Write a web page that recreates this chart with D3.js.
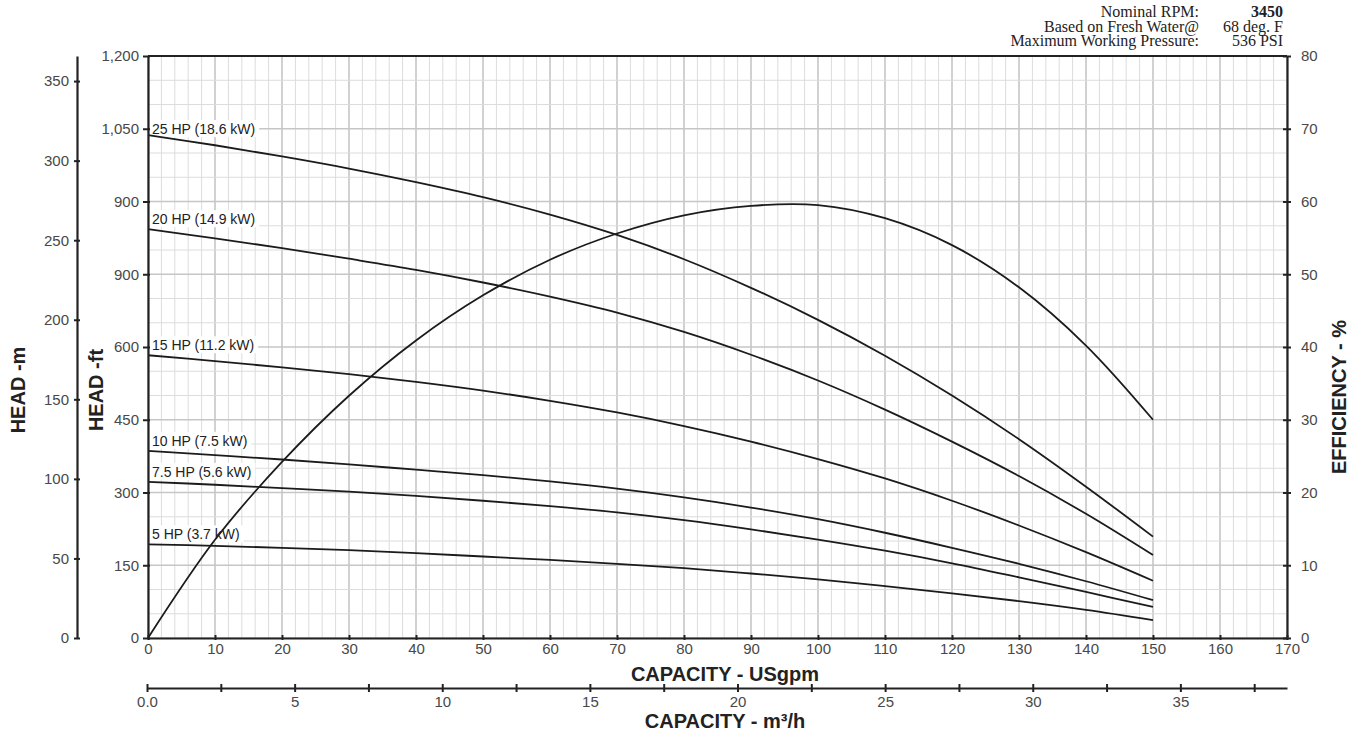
<!DOCTYPE html>
<html>
<head>
<meta charset="utf-8">
<script src="https://cdn.jsdelivr.net/npm/d3@7"></script>
<style>
  body { margin: 0; background: #fff; }
  text { font-family: "Liberation Sans", Arial, Helvetica, sans-serif; }
</style>
</head>
<body>
<div id="chart"></div>
<script>
const capacity = [0, 10, 20, 30, 40, 50, 60, 70, 80, 90, 100, 110, 120, 130, 140, 150];

// head curves in ft
const hp25 = [1037, 1016, 993, 968, 940, 909, 873, 831, 781, 722, 656, 582, 500, 410, 312, 209];
const hp20 = [843, 824, 804, 782, 759, 733, 704, 671, 631, 584, 531, 471, 405, 334, 256, 171];
const hp15 = [583, 571, 558, 544, 528, 510, 489, 465, 437, 405, 369, 329, 283, 232, 177, 118];
const hp10 = [386, 377, 368, 358, 347, 336, 323, 308, 290, 269, 245, 217, 186, 153, 117, 78];
const hp75 = [322, 316, 309, 302, 293, 283, 272, 259, 243, 224, 203, 180, 154, 125, 95, 64];
const hp5 = [193, 190, 186, 181, 175, 168, 161, 153, 144, 133, 121, 107, 92, 76, 58, 37];

// efficiency %
const efficiency = [0, 13.5, 24.2, 33.3, 40.9, 47.1, 52.0, 55.6, 58.1, 59.4, 59.5, 57.7, 54.0, 48.2, 40.2, 30];

const curveNames = ["25 HP (18.6 kW)", "20 HP (14.9 kW)", "15 HP (11.2 kW)", "10 HP (7.5 kW)", "7.5 HP (5.6 kW)", "5 HP (3.7 kW)"];
const curveValues = [hp25, hp20, hp15, hp10, hp75, hp5];

// tick labels
const ftTicks = [0, 150, 300, 450, 600, 750, 900, 1050, 1200];
const ftTickLabels = ["0", "150", "300", "450", "600", "900", "900", "1,050", "1,200"];
const mTicks = [0, 50, 100, 150, 200, 250, 300, 350];
const gpmTicks = [0, 10, 20, 30, 40, 50, 60, 70, 80, 90, 100, 110, 120, 130, 140, 150, 160, 170];
const effTicks = [0, 10, 20, 30, 40, 50, 60, 70, 80];
const m3hTicks = [0, 2.5, 5, 7.5, 10, 12.5, 15, 17.5, 20, 22.5, 25, 27.5, 30, 32.5, 35, 37.5];

const infoLabels = ["Nominal RPM:", "Based on Fresh Water@", "Maximum Working Pressure:"];
const infoValues = ["3450", "68 deg. F", "536 PSI"];

const FT_PER_M = 3.28084;
const GPM_PER_M3H = 4.40287;

const fullWidth = 1365, fullHeight = 736;
const plotLeft = 148, plotRight = 1287, plotTop = 56, plotBottom = 638;

const svg = d3.select("#chart")
  .append("svg")
  .attr("width", fullWidth)
  .attr("height", fullHeight);

const x = d3.scaleLinear().domain([0, 170]).range([plotLeft, plotRight]);
const yFt = d3.scaleLinear().domain([0, 1200]).range([plotBottom, plotTop]);
const yM = d3.scaleLinear().domain([0, 1200 / FT_PER_M]).range([plotBottom, plotTop]);
const yEff = d3.scaleLinear().domain([0, 80]).range([plotBottom, plotTop]);
const xM3 = d3.scaleLinear().domain([0, 170 / GPM_PER_M3H]).range([plotLeft - 1, plotRight]);

const axisColor = "#222";
const tickTextColor = "#484848";

// === Grid ===
const grid = svg.append("g");
const vLines = d3.range(0, 171, 2);
const hLines = d3.range(0, 1201, 50);

grid.selectAll(".vgrid")
  .data(vLines)
  .enter()
  .append("line")
  .attr("x1", d => x(d)).attr("x2", d => x(d))
  .attr("y1", plotTop).attr("y2", plotBottom)
  .attr("stroke", d => d % 10 === 0 ? "#c6c6c6" : "#dcdcdc")
  .attr("stroke-width", d => d % 10 === 0 ? 1.6 : 1);

grid.selectAll(".hgrid")
  .data(hLines)
  .enter()
  .append("line")
  .attr("x1", plotLeft).attr("x2", plotRight)
  .attr("y1", d => yFt(d)).attr("y2", d => yFt(d))
  .attr("stroke", d => d % 150 === 0 ? "#c6c6c6" : "#dcdcdc")
  .attr("stroke-width", d => d % 150 === 0 ? 1.6 : 1);

// === Curve labels (white boxes hide the grid) ===
const labels = svg.append("g");
curveNames.forEach((name, i) => {
  const y0 = yFt(curveValues[i][0]);
  const baseline = i === 0 ? y0 - 1 : y0 - 5;
  const t = labels.append("text")
    .attr("x", plotLeft + 4)
    .attr("y", baseline)
    .style("font-size", "14px")
    .style("fill", "#222")
    .text(name);
  const bb = t.node().getBBox();
  labels.insert("rect", "text")
    .attr("x", plotLeft + 2)
    .attr("y", bb.y - 1)
    .attr("width", bb.width + 6)
    .attr("height", bb.height + 1)
    .attr("fill", "#fff");
});

// === Curves ===
const line = d3.line()
  .x((d, i) => x(capacity[i]))
  .curve(d3.curveCatmullRom);

curveValues.forEach(vals => {
  svg.append("path")
    .datum(vals)
    .attr("d", line.y(d => yFt(d)))
    .attr("fill", "none")
    .attr("stroke", "#1b1b1b")
    .attr("stroke-width", 1.8);
});

svg.append("path")
  .datum(efficiency)
  .attr("d", line.y(d => yEff(d)))
  .attr("fill", "none")
  .attr("stroke", "#1b1b1b")
  .attr("stroke-width", 1.8);

// === Axes ===
function styleAxis(g, cross) {
  g.select(".domain").attr("stroke", axisColor).attr("stroke-width", 2.2);
  g.selectAll(".tick line").attr("stroke", axisColor).attr("stroke-width", 2);
  g.selectAll(".tick text")
    .style("font-size", "15px")
    .style("fill", tickTextColor)
    .style("font-family", "'Liberation Sans', Arial, sans-serif");
  cross(g.selectAll(".tick line"));
}

// top border
svg.append("line")
  .attr("x1", plotLeft).attr("x2", plotRight)
  .attr("y1", plotTop).attr("y2", plotTop)
  .attr("stroke", axisColor)
  .attr("stroke-width", 2.2);

// HEAD ft
svg.append("g")
  .attr("transform", `translate(${plotLeft},0)`)
  .call(d3.axisLeft(yFt).tickValues(ftTicks).tickSizeInner(5).tickSizeOuter(0).tickPadding(4)
    .tickFormat((d, i) => ftTickLabels[i]))
  .call(g => styleAxis(g, l => l.attr("x1", 2)));

// HEAD m
svg.append("g")
  .attr("transform", "translate(77,0)")
  .call(d3.axisLeft(yM).tickValues(mTicks).tickSizeInner(3).tickSizeOuter(0).tickPadding(5))
  .call(g => styleAxis(g, l => l.attr("x1", 3)));

// efficiency
svg.append("g")
  .attr("transform", `translate(${plotRight},0)`)
  .call(d3.axisRight(yEff).tickValues(effTicks).tickSizeInner(4).tickSizeOuter(0).tickPadding(10))
  .call(g => styleAxis(g, l => l.attr("x1", -4)));

// capacity gpm
svg.append("g")
  .attr("transform", `translate(0,${plotBottom})`)
  .call(d3.axisBottom(x).tickValues(gpmTicks).tickSizeInner(2).tickSizeOuter(0).tickPadding(3))
  .call(g => styleAxis(g, l => l.attr("y1", -3)));

// capacity m3/h
svg.append("g")
  .attr("transform", "translate(0,688)")
  .call(d3.axisBottom(xM3).tickValues(m3hTicks).tickSizeInner(4).tickSizeOuter(0).tickPadding(4)
    .tickFormat(d => d === 0 ? "0.0" : (d % 5 === 0 ? d : "")))
  .call(g => styleAxis(g, l => l.attr("y1", -4)));

// === Axis titles ===
const titleStyle = sel => sel
  .attr("text-anchor", "middle")
  .style("font-size", "20px")
  .style("font-weight", "bold")
  .style("fill", "#222");

svg.append("text")
  .attr("x", 725).attr("y", 681)
  .call(titleStyle)
  .text("CAPACITY - USgpm");

svg.append("text")
  .attr("x", 725).attr("y", 728)
  .call(titleStyle)
  .text("CAPACITY - m³/h");

svg.append("text")
  .attr("transform", "translate(25,390) rotate(-90)")
  .call(titleStyle)
  .text("HEAD -m");

svg.append("text")
  .attr("transform", "translate(103,390) rotate(-90)")
  .call(titleStyle)
  .text("HEAD -ft");

svg.append("text")
  .attr("transform", "translate(1346,397) rotate(-90)")
  .call(titleStyle)
  .text("EFFICIENCY - %");

// === Info block ===
infoLabels.forEach((t, i) => {
  svg.append("text")
    .attr("x", 1199).attr("y", 17 + i * 14.5)
    .attr("text-anchor", "end")
    .style("font-family", "'Liberation Serif', 'Times New Roman', serif")
    .style("font-size", "16px")
    .style("fill", "#222")
    .text(t);
  svg.append("text")
    .attr("x", 1283).attr("y", 17 + i * 14.5)
    .attr("text-anchor", "end")
    .style("font-family", "'Liberation Serif', 'Times New Roman', serif")
    .style("font-size", "16px")
    .style("font-weight", i === 0 ? "bold" : "normal")
    .style("fill", "#222")
    .text(infoValues[i]);
});
</script>
</body>
</html>
